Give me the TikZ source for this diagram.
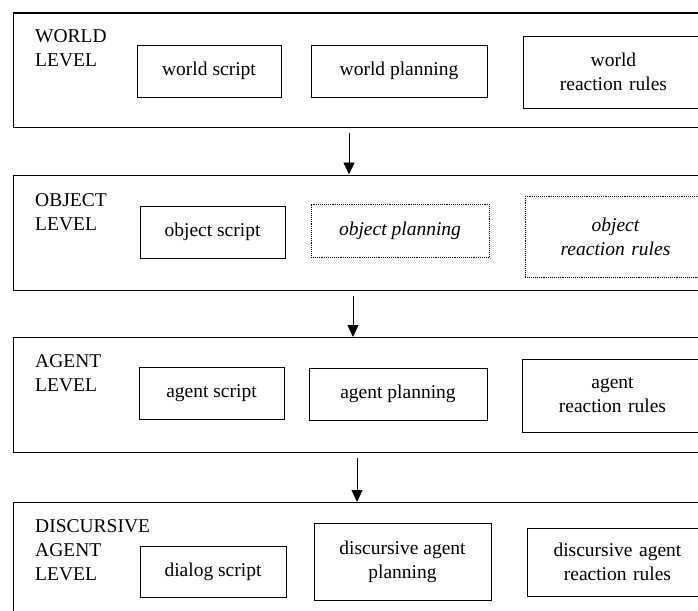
\documentclass[tikz,border=0pt]{standalone}
\usepackage{fontspec}
\setmainfont{Liberation Serif}
\newfontfamily\levelfont{Liberation Serif}
\usetikzlibrary{
    arrows.meta,
    positioning
}
\tikzset{
    levelbox/.style={draw, line width=1.2pt, anchor=north west, minimum width=720pt, inner sep=0pt},
    partbox/.style={draw, line width=0.9pt, inner sep=0pt, align=center, font=\levelfont\fontsize{19.5}{24}\selectfont},
    planned/.style={partbox, densely dotted, font=\levelfont\fontsize{19.5}{24}\selectfont\itshape},
    rulebox/.style={anchor=west, text width=180pt},
    leveltext/.style={anchor=north west, inner sep=0pt, align=left, font=\levelfont\fontsize{19.5}{24}\selectfont},
    flow/.style={line width=0.9pt, -{Triangle[length=12pt,width=11pt]}}
}

\begin{document}
\begin{tikzpicture}[x=1pt, y=-1pt]
                                \useasboundingbox (0, 0) rectangle (698, 610);
                                \clip (0, 0) rectangle (698, 610);

                                % world
                                \node[levelbox, minimum height=114.5pt] (world) at (12.5, 12.5) {};
                                \node[leveltext] (worldname) at (35, 29) {WORLD\\LEVEL};
                                \node[partbox, minimum width=144pt, minimum height=52pt] (wscript) at (209, 71) {world script};
                                \node[partbox, minimum width=176pt, minimum height=52pt] (wplan) at (399, 71) {world planning};
                                \node[partbox, rulebox, minimum height=72pt] (wrules) at (523, 72) {world\\reaction rules};

                                % object
                                \node[levelbox, minimum height=115.5pt] (object) at (12.5, 174.5) {};
                                \node[leveltext] (objectname) at (35, 193) {OBJECT\\LEVEL};
                                \node[partbox, minimum width=145pt, minimum height=52pt] (oscript) at (212.5, 232) {object script};
                                \node[planned, minimum width=178pt, minimum height=53pt] (oplan) at (400, 230.5) {object planning};
                                \node[planned, rulebox, minimum height=81pt] (orules) at (525, 236.5) {object\\reaction rules};

                                % agent
                                \node[levelbox, minimum height=115pt] (agent) at (12.5, 337) {};
                                \node[leveltext] (agentname) at (35, 354) {AGENT\\LEVEL};
                                \node[partbox, minimum width=145pt, minimum height=52pt] (ascript) at (211.5, 393) {agent script};
                                \node[partbox, minimum width=178pt, minimum height=52pt] (aplan) at (398, 394) {agent planning};
                                \node[partbox, rulebox, minimum height=73pt] (arules) at (522, 395.5) {agent\\reaction rules};

                                % discursive agent
                                \node[levelbox, minimum height=130pt] (dagent) at (12.5, 502) {};
                                \node[leveltext] (dagentname) at (35, 519) {DISCURSIVE\\AGENT\\LEVEL};
                                \node[partbox, minimum width=146pt, minimum height=51pt] (dscript) at (213, 571.5) {dialog script};
                                \node[partbox, minimum width=177pt, minimum height=77pt] (dplan) at (402.5, 561.5) {discursive agent\\planning};
                                \node[partbox, rulebox, minimum height=68pt] (drules) at (527, 562) {discursive agent\\reaction rules};

                                \coordinate (a1) at (349, 0);
                                \coordinate (a2) at (353, 0);
                                \coordinate (a3) at (357, 0);
                                \draw[flow] ([yshift=-5pt]world.south -| a1) -- (object.north -| a1);
                                \draw[flow] ([yshift=-5pt]object.south -| a2) -- (agent.north -| a2);
                                \draw[flow] ([yshift=-5pt]agent.south -| a3) -- (dagent.north -| a3);
                            \end{tikzpicture}
\end{document}
